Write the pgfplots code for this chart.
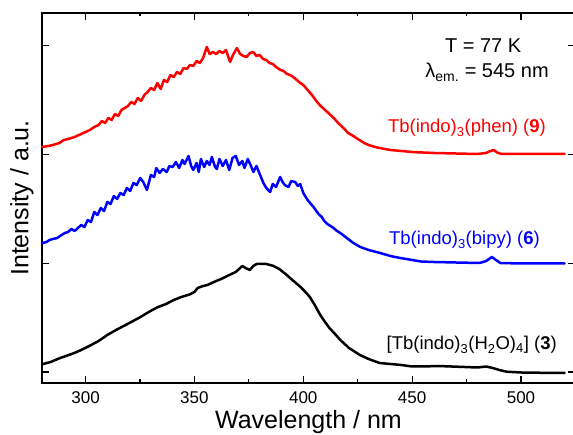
\documentclass[border=0pt]{standalone}
\usepackage{pgfplots}
\pgfplotsset{compat=1.18}
\usepackage{fontspec}
\setmainfont{Liberation Sans}
\begin{document}
\begin{tikzpicture}
\useasboundingbox (-42pt,-52pt) rectangle (531pt,383pt);
\begin{axis}[
  width=533pt, height=370pt, scale only axis,
  xmin=280, xmax=524.8, ymin=-11, ymax=359,
  xtick={300,350,...,500}, minor x tick num=1,
  ytick={0,108.7,217.4,326.1}, yticklabels={},
  tick align=inside, major tick length=7pt, minor tick length=3.5pt,
  axis line style={line width=1.4pt}, every tick/.style={line width=1.2pt, black},
  /pgf/number format/assume math mode=true,
  ticklabel style={font=\fontsize{17}{20}\selectfont},
  xticklabel style={yshift=-5pt},
  xlabel={Wavelength / nm}, ylabel={Intensity / a.u.},
  label style={font=\fontsize{25}{28}\selectfont},
  xlabel style={at={(axis description cs:0.5,0)}, anchor=north, yshift=-23.5pt},
  ylabel style={at={(axis description cs:0,0.5)}, anchor=south, yshift=5pt},
  clip=false,
  every axis plot/.append style={line join=round, line cap=round},
]
\addplot[red, line width=2.5pt] table {
280 225
283 226
285 227
288 229
290 232
292 233
295 235
297 237
300 240
302 242
304 245
306 247
307.5 251
309 249
310.5 254
312 252
313.5 258
315 256
316.5 262
318 264
319.5 266
321 270
322.5 268
324 274
325.5 271
327 277
328.5 280
330 284
331.5 282
333 289
334.5 283
336 292
337.5 290
339 297
340.5 295
342 300
343.5 298
345 304
346.5 303
348 307
349.5 306
351 311
352.5 309
354 314
355.7 325
357 318
358.5 320
360 318
361.5 321
363 319
364.5 322
366.4 310
367.5 316
369.5 324
371 318
372.5 316
374 315
375.5 319
377 320
378.5 316
380 317
381.5 313
383 312
384.5 309
386 308
387.5 305
389.5 302
391 301
392.5 298
394 297
396 294
398 290
400 287
402 282
404 277
406 271
408 266
410 262
412 258
414 254
416 249
418 245
420.6 239
423 236
425 233
428 229
430 227
433 225
435 224
440 222
445 221
450 220
460 219
470 218.5
480 218
484 219
486 221
487.5 222
489 219.5
491 218
500 218
510 218
520 218
};
\addplot[blue, line width=2.5pt] table {
280 128.7
282 130
283.5 132
285 133
287 134
289 137
290.5 139
292 140
293.5 143
295 141
296.5 144
298 147
299.5 145
301 152
302.5 150
304 160
305.5 157
307 164
308.5 161
310 170
311.5 168
313 176
314.5 173
316 179
317.5 177
319 184
320.5 181
322 189
323.5 187
325.1 194
326.5 190
328.2 182
330 197
331.5 195
332.5 204
334 199
335.5 203
337.3 200
338.5 206
340 205
341.5 210
343 204
344.5 212
345.5 208
347.3 216
348.5 206
349.5 202
351 209
352 200
353 213
354.5 205
355.7 211
357 207
358 215
359.5 205
360.3 203
361.5 213
363 206
364.5 212
366 202
367.5 214
369 216
370.5 207
372 211
373 204
374.5 213
376 206
377.1 200
378.5 206
380 198
381.7 189
383 184
384.8 180
386 188
387.5 185
389.4 195
390.5 190
391.5 187
393.2 185
394.5 191
396.3 190
397.5 186
398.6 188
400 179
402 172
403.5 168
404.7 165
406 161
407 158
408.5 155
409.3 152
411 148
412.5 146
413.9 144
415.5 141
417 139
420 134
423 129
426.2 125
430 122
435.3 119
440 116
444.5 114
450 112
454 110.5
460 110
470 109.5
481 109
484 111
486.6 115
488.5 112
490.5 109
500 108.5
520 108.5
};
\addplot[black, line width=2.5pt] table {
280 7.7
284 10
288 13.7
294.5 18.7
298 22
302 26.3
306 31
310 37
314 42
317.5 46
321 50
325 54.7
329 60
333 64.7
337 68
340.5 72
344 75
348 77.7
350 80
351.5 84
354 86
356 87
358 89
360 91
363 93.7
365 96
367 98
369 100
370.5 103
372 106
373.5 104
375.5 102
377 106
378.6 108
381 108
383 108
386 106.3
389 103
392.4 97
395 92
398.6 85.3
401 80
403 75
405 68
407.8 57
410 50
412 44
415 37
417 32
421 24
426 17
430 13
435 9
440 8
445 7
450 5.5
455 5.5
462 6
468 5.5
474 5
480 4.5
484 5.5
487 4
490 2
493.4 0.3
500 -0.5
510 -0.8
520 -1
};
\node[anchor=base, font=\fontsize{20}{24}\selectfont] at (axis cs:482.6,319) {T = 77 K};
\node[anchor=base, font=\fontsize{20}{24}\selectfont] at (axis cs:484.4,294) {λ\textsubscript{em.} = 545 nm};
\node[anchor=base east, inner sep=0pt, red, font=\fontsize{18.5}{22}\selectfont] at (axis cs:511.5,239) {Tb(indo)\textsubscript{3}(phen) (\textbf{9})};
\node[anchor=base east, inner sep=0pt, blue, font=\fontsize{18.5}{22}\selectfont] at (axis cs:508.7,127) {Tb(indo)\textsubscript{3}(bipy) (\textbf{6})};
\node[anchor=base east, inner sep=0pt, black, font=\fontsize{18.5}{22}\selectfont] at (axis cs:516.5,22) {[Tb(indo)\textsubscript{3}(H\textsubscript{2}O)\textsubscript{4}] (\textbf{3})};
\end{axis}
\end{tikzpicture}
\end{document}
